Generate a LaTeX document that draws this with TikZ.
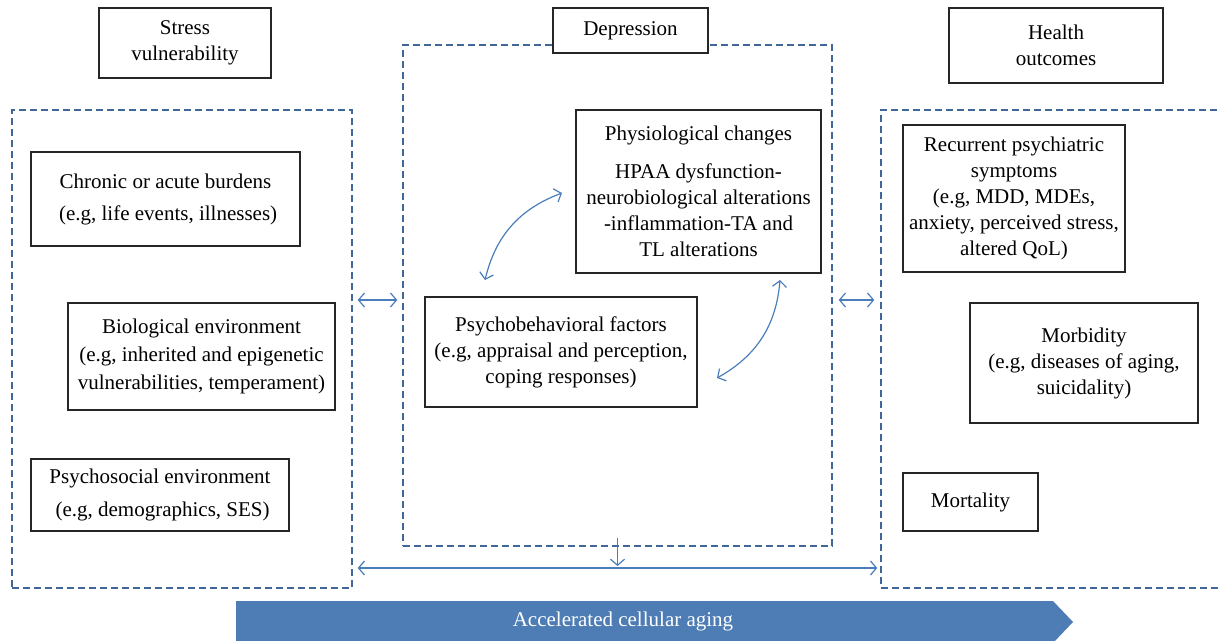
\documentclass[tikz,border=0pt]{standalone}
\usepackage{fontspec}
\setmainfont{Liberation Serif}
\usetikzlibrary{arrows.meta}
\definecolor{dashblue}{HTML}{41679A}
\definecolor{linkblue}{HTML}{4A7EBB}
\definecolor{bannerblue}{HTML}{4E7CB4}
\begin{document}
\begin{tikzpicture}[x=1pt, y=-1pt,
	box/.style={draw=black!85, line width=1.2pt, fill=white, align=center, inner sep=0pt, font=\fontsize{21}{26}\selectfont},
	group/.style={draw=dashblue, line width=1.4pt, dash pattern=on 7pt off 4pt, inner sep=0pt},
	link/.style={draw=linkblue, line width=1.2pt, {Straight Barb[length=6pt, width=14pt]}-{Straight Barb[length=6pt, width=14pt]}}]
	\clip (0,0) rectangle (1220,640);
	% dashed groups
	\node[group, minimum width=340pt, minimum height=478pt] (stressgrp) at (182, 349) {};
	\node[group, minimum width=429pt, minimum height=501pt] (depgrp) at (617.5, 295.5) {};
	\node[group, minimum width=358pt, minimum height=478pt] (healthgrp) at (1060, 349) {};
	% titles
	\node[box, minimum width=172pt, minimum height=70pt] (stresstitle) at (185, 43) {Stress\\vulnerability};
	\node[box, minimum width=155pt, minimum height=45pt] (deptitle) at (630.5, 30.5) {Depression};
	\node[box, minimum width=214pt, minimum height=75pt] (healthtitle) at (1056, 45.5) {Health\\outcomes};
	% stress vulnerability
	\node[box, minimum width=269pt, minimum height=94pt] (chronic) at (165.5, 199) {Chronic or acute burdens\\[6pt] \ (e.g, life events, illnesses)};
	\node[box, minimum width=267pt, minimum height=107pt] (biological) at (201.5, 356.5) {Biological environment\\[2pt](e.g, inherited and epigenetic\\[2pt]vulnerabilities, temperament)};
	\node[box, minimum width=258pt, minimum height=72pt] (psychosocial) at (160, 495) {Psychosocial environment\\[7pt] \ (e.g, demographics, SES)};
	% depression
	\node[box, minimum width=245pt, minimum height=163pt] (physio) at (698.5, 191.5) {Physiological changes\\[12pt]HPAA dysfunction-\\neurobiological alterations\\-inflammation-TA and\\TL alterations};
	\node[box, minimum width=272pt, minimum height=110pt] (psychobeh) at (561, 352) {Psychobehavioral factors\\(e.g, appraisal and perception,\\coping responses)};
	% health outcomes
	\node[box, minimum width=222pt, minimum height=147pt] (recurrent) at (1014, 198.5) {Recurrent psychiatric\\symptoms\\(e.g, MDD, MDEs,\\anxiety, perceived stress,\\altered QoL)};
	\node[box, minimum width=228pt, minimum height=120pt] (morbidity) at (1084, 363) {Morbidity\\(e.g, diseases of aging,\\suicidality)};
	\node[box, minimum width=135pt, minimum height=58pt] (mortality) at (970.5, 502) {Mortality};
	% links
	\coordinate (pbtop) at (485, 280);
	\coordinate (phleft) at (562, 193);
	\coordinate (phbottom) at (780, 280);
	\coordinate (pbright) at (717, 378);
	\draw[link] (pbtop) to[bend left=28] (phleft);
	\draw[link] (phbottom) to[bend left=28] (pbright);
	\draw[link, shorten <=5pt, shorten >=5pt] (stressgrp.east |- 0,300) -- (depgrp.west |- 0,300);
	\draw[link, shorten <=6pt, shorten >=6pt] (depgrp.east |- 0,300) -- (healthgrp.west |- 0,300);
	\draw[link, shorten <=5pt, shorten >=3pt] (stressgrp.east |- 0,568) -- (healthgrp.west |- 0,568);
	\draw[draw=linkblue, line width=1.2pt, -{Straight Barb[length=6pt, width=14pt]}] ([yshift=9pt]depgrp.south) -- (depgrp.south |- 0,566);
	% banner
	\fill[bannerblue] (236,601) -- (1053,601) -- (1073,622) -- (1053,643) -- (236,643) -- cycle;
	\node[text=white, font=\fontsize{21}{26}\selectfont] (banner) at (623, 621) {Accelerated cellular aging};
\end{tikzpicture}
\end{document}
